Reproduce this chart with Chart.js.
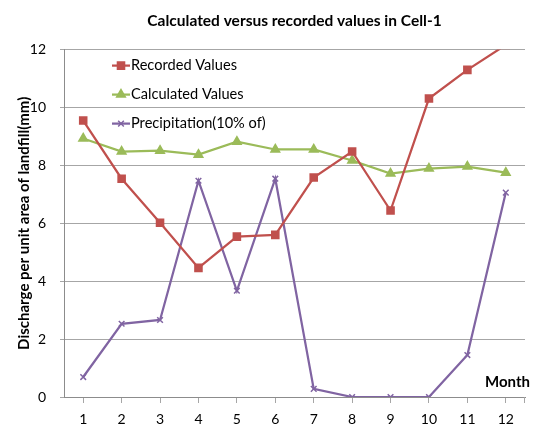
<!DOCTYPE html>
<html>
<head>
<meta charset="utf-8">
<script src="https://cdn.jsdelivr.net/npm/chart.js@4/dist/chart.umd.min.js"></script>
<style>
html,body{margin:0;padding:0;background:#fff;}
#wrap{width:533px;height:429px;}
</style>
</head>
<body>
<div id="wrap"><canvas id="c" width="533" height="429"></canvas></div>
<script>
const months = ['1','2','3','4','5','6','7','8','9','10','11','12'];
const recorded = [9.55, 7.54, 6.02, 4.46, 5.54, 5.6, 7.58, 8.48, 6.44, 10.31, 11.3, 12.16];
const calculated = [8.93, 8.48, 8.51, 8.37, 8.82, 8.55, 8.55, 8.17, 7.72, 7.89, 7.96, 7.75];
const precipitation = [0.69, 2.53, 2.66, 7.47, 3.67, 7.54, 0.28, 0, 0, 0, 1.45, 7.06];
const seriesNames = ['Recorded Values', 'Calculated Values', 'Precipitation(10% of)'];
const yTicks = [0, 2, 4, 6, 8, 10, 12];

const FONT = 'Lato, "Liberation Sans", sans-serif';
const RED = '#C0504D', GREEN = '#9BBB59', PURPLE = '#8064A2';

const insideLegend = {
  id: 'insideLegend',
  afterDatasetsDraw(chart) {
    const ctx = chart.ctx;
    const a = chart.chartArea;
    const x0 = a.left + 48, y0 = a.top + 16, gap = 29;
    chart.data.datasets.forEach((ds, i) => {
      const y = y0 + i * gap;
      ctx.save();
      ctx.strokeStyle = ds.borderColor;
      ctx.lineWidth = 2.25;
      ctx.beginPath(); ctx.moveTo(x0, y); ctx.lineTo(x0 + 18, y); ctx.stroke();
      ctx.fillStyle = ds.borderColor;
      ctx.lineWidth = 1.5;
      Chart.helpers.drawPoint(ctx, {pointStyle: ds.pointStyle, radius: ds.pointRadius, borderWidth: 1.5}, x0 + 9, y);
      ctx.fillStyle = '#000';
      ctx.font = '14.6px ' + FONT;
      ctx.textBaseline = 'middle';
      ctx.fillText(ds.label, x0 + 19, y);
      ctx.restore();
    });
    ctx.save();
    ctx.font = 'bold 15px ' + FONT;
    ctx.fillStyle = '#000';
    ctx.textAlign = 'right';
    ctx.textBaseline = 'middle';
    ctx.fillText('Month', a.right + 5, a.bottom - 15);
    ctx.strokeStyle = '#a6a6a6';
    ctx.lineWidth = 1;
    ctx.beginPath(); ctx.moveTo(a.right - 0.5, a.bottom); ctx.lineTo(a.right - 0.5, a.bottom + 6); ctx.stroke();
    ctx.restore();
  }
};

function ds(label, data, color, style, r) {
  return {
    label, data, borderColor: color, backgroundColor: color,
    pointBackgroundColor: color, pointBorderColor: color,
    pointStyle: style, pointRadius: r, pointBorderWidth: 1.5,
    borderWidth: 2.25, tension: 0, fill: false
  };
}

new Chart(document.getElementById('c'), {
  type: 'line',
  data: {
    labels: months,
    datasets: [
      ds(seriesNames[0], recorded, RED, 'rect', 5),
      ds(seriesNames[1], calculated, GREEN, 'triangle', 5),
      ds(seriesNames[2], precipitation, PURPLE, 'crossRot', 4)
    ]
  },
  options: {
    responsive: false,
    animation: false,
    layout: {padding: {left: 0, right: 8, top: 3, bottom: 0}},
    plugins: {
      legend: {display: false},
      tooltip: {enabled: false},
      title: {
        display: true,
        text: 'Calculated versus recorded values in Cell-1',
        fullSize: false,
        color: '#000',
        font: {family: FONT, size: 15.5, weight: 'bold'},
        padding: {top: 9, bottom: 19}
      }
    },
    scales: {
      x: {
        offset: true,
        afterFit(scale) { scale.height = 32; },
        grid: {display: true, drawOnChartArea: false, offset: false, tickLength: 6, color: '#a6a6a6'},
        border: {display: true, color: '#8c8c8c', width: 1},
        ticks: {color: '#000', font: {family: FONT, size: 14}, padding: 8, maxRotation: 0}
      },
      y: {
        min: 0, max: 12,
        afterFit(scale) { scale.width = 64; },
        afterBuildTicks(scale) { scale.ticks = yTicks.map(v => ({value: v})); },
        grid: {color: '#a6a6a6', tickLength: 4, lineWidth: 1},
        border: {display: true, color: '#8c8c8c', width: 1},
        ticks: {color: '#000', font: {family: FONT, size: 14}, padding: 14},
        title: {
          display: true,
          text: 'Discharge per unit area of landfill(mm)',
          color: '#000',
          font: {family: FONT, size: 15, weight: 'bold'},
          padding: {top: 15, bottom: 2}
        }
      }
    }
  },
  plugins: [insideLegend]
});
</script>
</body>
</html>
